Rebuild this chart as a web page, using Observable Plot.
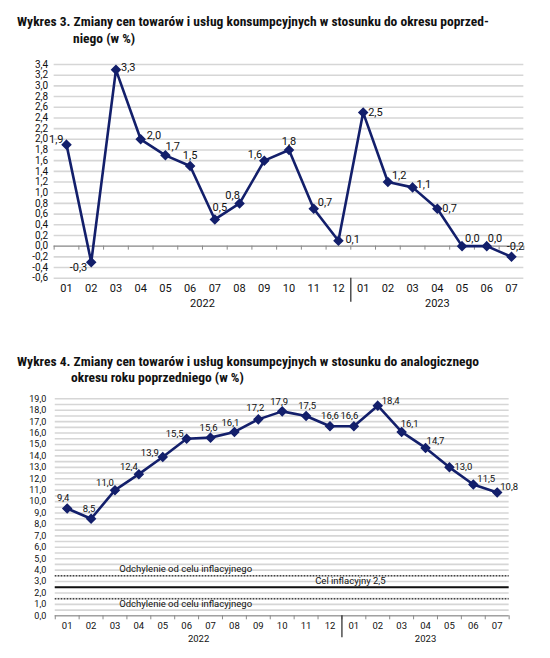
<!DOCTYPE html>
<html><head><meta charset="utf-8">
<script src="https://cdn.jsdelivr.net/npm/d3@7"></script>
<script src="https://cdn.jsdelivr.net/npm/@observablehq/plot@0.6"></script>
<style>
html,body{margin:0;padding:0;background:#fff;}
body{width:550px;height:658px;position:relative;overflow:hidden;font-family:Roboto,sans-serif;color:#111;}
.t{position:absolute;font-family:'Liberation Sans Narrow','Roboto Condensed',Roboto,sans-serif;font-weight:bold;font-size:13.5px;line-height:16px;white-space:nowrap;color:#111;}
.c{position:absolute;left:0;}
</style></head>
<body>
<div class="t" style="left:17px;top:13px">Wykres 3. Zmiany cen towarów i usług konsumpcyjnych w stosunku do okresu poprzed-</div>
<div class="t" style="left:73px;top:30px">niego (w %)</div>
<div class="c" id="c1" style="top:50px"></div>
<div class="t" style="left:17px;top:353px">Wykres 4. Zmiany cen towarów i usług konsumpcyjnych w stosunku do analogicznego</div>
<div class="t" style="left:71px;top:369px">okresu roku poprzedniego (w %)</div>
<div class="c" id="c2" style="top:385px"></div>
<script>
// ---- data ----
const periods = ["2022-01","2022-02","2022-03","2022-04","2022-05","2022-06","2022-07","2022-08","2022-09","2022-10","2022-11","2022-12","2023-01","2023-02","2023-03","2023-04","2023-05","2023-06","2023-07"];
const momValues = [1.9,-0.3,3.3,2.0,1.7,1.5,0.5,0.8,1.6,1.8,0.7,0.1,2.5,1.2,1.1,0.7,0.0,0.0,-0.2];
const yoyValues = [9.4,8.5,11.0,12.4,13.9,15.5,15.6,16.1,17.2,17.9,17.5,16.6,16.6,18.4,16.1,14.7,13.0,11.5,10.8];
const momTicks = d3.range(-3, 18).map(k => k / 5);      // -0,6 ... 3,4
const yoyTicks = d3.range(0, 20);                        // 0,0 ... 19,0
const yoyGrid = d3.range(0, 39).map(k => k / 2);
const targetValue = 2.5;
const bandValues = [3.5, 1.5];
const targetLabel = "Cel inflacyjny 2,5";
const bandLabel = "Odchylenie od celu inflacyjnego";

// label placement [dx, dy, anchor]
const momPos = [[-3,-5,"end"],[-4,5,"end"],[5,-2,"start"],[6,-4,"start"],[0,-9,"start"],[0,-11,"middle"],[5,-12,"middle"],[-7,-8,"middle"],[-2,-6,"end"],[0,-9,"middle"],[4,-6,"start"],[7,-1,"start"],[5,0,"start"],[4,-7,"start"],[4,-3,"start"],[5,0,"start"],[3,-8,"start"],[1,-8,"start"],[4,-10,"middle"]];
const yoyPos = [[-4,-10,"middle"],[-2,-10,"middle"],[-10,-7,"middle"],[-10,-7,"middle"],[-4,-4,"end"],[-3,-5,"end"],[-2,-10,"middle"],[-4,-9,"middle"],[-3,-11,"middle"],[-3,-9,"middle"],[1,-10,"middle"],[0,-10,"middle"],[-4.5,-10,"middle"],[4,-5,"start"],[-1,-8,"start"],[1,-7,"start"],[5,0,"start"],[4,-6,"start"],[3,-5,"start"]];

const NAVY = "#131f6b";
const fmt = v => d3.format(".1f")(v).replace("\u2212", "-").replace(".", ",");
const months = periods.map(p => p.slice(5));
const yearOf = periods.map(p => p.slice(0, 4));
const years = Array.from(new Set(yearOf));
const yearCenters = years.map(y => ({y, x: d3.mean(periods.map((p, i) => i).filter(i => yearOf[i] === y))}));
const splits = d3.range(1, periods.length).filter(i => yearOf[i] !== yearOf[i - 1]).map(i => i - 0.5);
const bounds = d3.range(0, periods.length + 1).map(i => i - 0.5);
const idx = periods.map((p, i) => i);

function chart(values, pos, o) {
  const data = values.map((v, i) => ({i, v, lab: fmt(v)}));
  const marks = [
    Plot.ruleY(o.grid, {stroke: "#d6d6d6", strokeWidth: 1.6}),
    Plot.text(o.ticks, {y: d => d, frameAnchor: "left", textAnchor: "end", dx: o.ylabDx, text: fmt, fontSize: o.yfs}),
    Plot.ruleY([0], {stroke: "#8a8a8a", strokeWidth: 1}),
    Plot.ruleX(bounds, {y1: 0, y2: 0, insetBottom: -4, stroke: "#8a8a8a", strokeWidth: 1}),
    Plot.ruleX(splits, {y1: o.ymin, y2: o.ymin, insetBottom: o.sepLen, stroke: "#333", strokeWidth: 1.3}),
    Plot.text(idx, {x: d => d, frameAnchor: "bottom", dy: o.mDy, text: i => months[i], fontSize: o.mfs}),
    Plot.text(yearCenters, {x: "x", frameAnchor: "bottom", dy: o.yDy, text: "y", fontSize: o.mfs}),
    ...(o.extra || []),
    Plot.line(data, {x: "i", y: "v", stroke: NAVY, strokeWidth: 2.6, strokeLinejoin: "round"}),
    Plot.dot(data, {x: "i", y: "v", symbol: "diamond2", r: 3.8, fill: NAVY, stroke: NAVY}),
    ...data.map((d, k) => Plot.text([d], {x: "i", y: "v", text: "lab", dx: pos[k][0], dy: pos[k][1], textAnchor: pos[k][2], fontSize: o.lfs, fill: "#111"}))
  ];
  return Plot.plot({
    width: 550, height: o.height,
    marginTop: o.mt, marginBottom: o.mb, marginLeft: o.ml, marginRight: o.mr,
    x: {type: "linear", domain: [-0.5, periods.length - 0.5], axis: null},
    y: {type: "linear", domain: [o.ymin, o.ymax], axis: null},
    style: {fontFamily: "Roboto, sans-serif", fontSize: "11px", color: "#111", background: "white"},
    marks
  });
}

document.getElementById("c1").append(chart(momValues, momPos, {
  height: 270, mt: 14, mb: 42.3, ml: 53.65, mr: 26.65, ymin: -0.6, ymax: 3.4,
  grid: momTicks, ticks: momTicks, ylabDx: -6, yfs: 10, mfs: 11, lfs: 11, mDy: 14, yDy: 29, sepLen: -24
}));

const refText = [
  {x: 5, v: bandValues[0], t: bandLabel, dy: -6.5, dx: -1},
  {x: 5, v: bandValues[1], t: bandLabel, dy: 5, dx: -1},
  {x: 12, v: targetValue, t: targetLabel, dy: -6, dx: -3.5}
];
document.getElementById("c2").append(chart(yoyValues, yoyPos, {
  height: 265, mt: 13.3, mb: 34.7, ml: 54.75, mr: 41.35, ymin: 0, ymax: 19,
  grid: yoyGrid, ticks: yoyTicks, ylabDx: -9, yfs: 9, mfs: 9.5, lfs: 9.5, mDy: 13.4, yDy: 25.7, sepLen: -22,
  extra: [
    Plot.ruleY(bandValues, {stroke: "#444", strokeWidth: 1.5, strokeDasharray: "1.5,1.5"}),
    Plot.ruleY([targetValue], {stroke: "#111", strokeWidth: 2}),
    ...refText.map(r => Plot.text([r], {x: "x", y: "v", text: "t", dx: r.dx, dy: r.dy, fontSize: 9.5, fill: "#111"}))
  ]
}));
</script>
</body></html>
